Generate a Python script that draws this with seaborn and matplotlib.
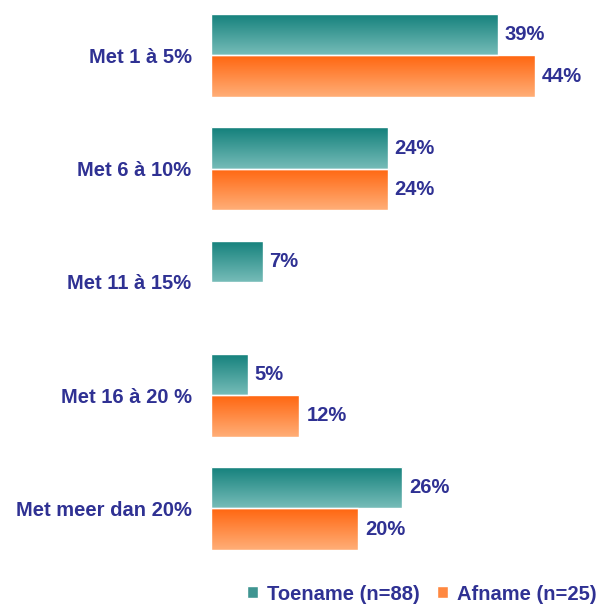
import numpy as np
import pandas as pd
import matplotlib
matplotlib.use("Agg")
import matplotlib.pyplot as plt
import matplotlib.patches as mpatches
import seaborn as sns

categories = ["Met 1 à 5%", "Met 6 à 10%", "Met 11 à 15%", "Met 16 à 20 %", "Met meer dan 20%"]
toename = [39, 24, 7, 5, 26]
afname = [44, 24, np.nan, 12, 20]
series_names = ["Toename (n=88)", "Afname (n=25)"]

navy = "#2f3193"
grad = {
    series_names[0]: ("#13807b", "#76bcb8"),
    series_names[1]: ("#ff6610", "#ffae77"),
}
legend_cols = {series_names[0]: "#3f9591", series_names[1]: "#ff8840"}

sns.set_theme(style="white")
plt.rcParams["font.family"] = ["Liberation Sans", "DejaVu Sans"]

rows = []
for c, t, a in zip(categories, toename, afname):
    rows.append({"cat": c, "series": series_names[0], "value": t})
    rows.append({"cat": c, "series": series_names[1], "value": a})
df = pd.DataFrame(rows).dropna()

fig = plt.figure(figsize=(5.97, 6.04), dpi=100)
ax = fig.add_axes([211 / 597, 39 / 604, (597 - 211) / 597, 565 / 604])

sns.barplot(data=df, y="cat", x="value", hue="series", order=categories,
            hue_order=series_names, orient="h", width=0.73, ax=ax,
            edgecolor="white", linewidth=1, legend=False, errorbar=None)

xlim = (0, (597 - 211) / 7.36)
ylim = (4.499, -0.490)

for container, name in zip(ax.containers, series_names):
    top, bot = [np.array(matplotlib.colors.to_rgb(c)) for c in grad[name]]
    t = np.linspace(0, 1, 64)[:, None]
    img = (top[None, :] * (1 - t) + bot[None, :] * t)[:, None, :]
    for p in container.patches:
        w = p.get_width()
        if not np.isfinite(w) or w <= 0:
            continue
        x0, y0 = p.get_x(), p.get_y()
        h = p.get_height()
        im = ax.imshow(img, extent=(x0, x0 + w, y0 + h, y0), origin="upper",
                       aspect="auto", zorder=p.get_zorder() - 0.1, interpolation="bilinear")
        im.set_clip_path(p)
        p.set_facecolor("none")
    labels = [("" if not np.isfinite(v) else f"{v:.0f}%") for v in container.datavalues]
    ax.bar_label(container, labels=labels, padding=5, color=navy,
                 fontsize=14.5, fontweight="bold")

ax.set_xlim(*xlim)
ax.set_ylim(*ylim)
ax.set_xlabel("")
ax.set_ylabel("")
ax.set_xticks([])
ax.tick_params(axis="y", length=0, pad=14)
for lbl in ax.get_yticklabels():
    lbl.set_color(navy)
    lbl.set_fontweight("bold")
    lbl.set_fontsize(14.5)
for s in ax.spines.values():
    s.set_visible(False)

handles = [mpatches.Patch(facecolor=legend_cols[n], edgecolor="white", label=n) for n in series_names]
leg = fig.legend(handles=handles, loc="center right", bbox_to_anchor=(0.999, 10 / 604), ncol=2,
                 frameon=False, handlelength=0.55, handleheight=0.55, handletextpad=0.45,
                 columnspacing=0.85, borderaxespad=0, borderpad=0,
                 prop={"weight": "bold", "size": 14.5})
for txt in leg.get_texts():
    txt.set_color(navy)

fig.savefig("out.png", dpi=100)
